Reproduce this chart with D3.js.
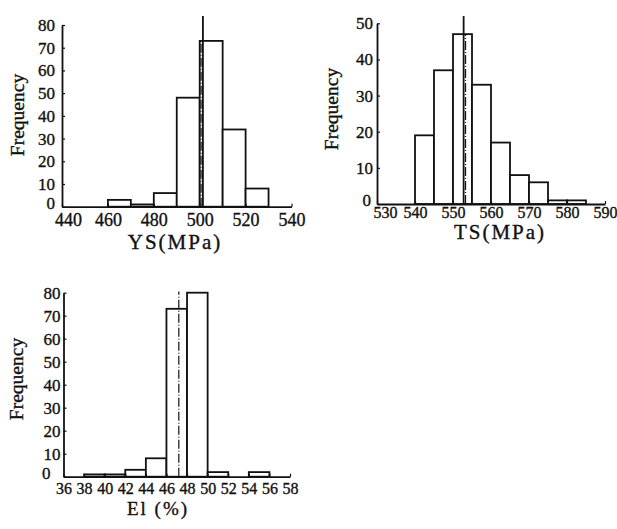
<!DOCTYPE html>
<html>
<head>
<meta charset="utf-8">
<script src="https://cdn.jsdelivr.net/npm/d3@7"></script>
<style>
  body { margin: 0; background: #fff; }
  text { font-family: 'Liberation Serif', 'DejaVu Serif', serif; fill: #111; stroke: #111; stroke-width: 0.35px; }
</style>
</head>
<body>
<script>
// YS histogram (bin width 10 MPa)
const ysBins = [440, 450, 460, 470, 480, 490, 500, 510, 520, 530]
const ysCounts = [0, 0, 3, 1, 6, 48, 73, 34, 8, 0]
const ysXTicks = [440, 460, 480, 500, 520, 540]
const ysYTicks = [0, 10, 20, 30, 40, 50, 60, 70, 80]

// TS histogram (bin width 5 MPa)
const tsBins = [530, 535, 540, 545, 550, 555, 560, 565, 570, 575, 580, 585]
const tsCounts = [0, 0, 19, 37, 47, 33, 17, 8, 6, 1, 1, 0]
const tsXTicks = [530, 540, 550, 560, 570, 580, 590]
const tsYTicks = [0, 10, 20, 30, 40, 50]

// El histogram (bin width 2 %)
const elBins = [36, 38, 40, 42, 44, 46, 48, 50, 52, 54, 56]
const elCounts = [0, 1, 1, 3, 8, 73, 80, 2, 0, 2, 0]
const elXTicks = [36, 38, 40, 42, 44, 46, 48, 50, 52, 54, 56, 58]
const elYTicks = [0, 10, 20, 30, 40, 50, 60, 70, 80]

// mean lines: [solid value, dash-dot value, top frequency]
const ysMean = [501.4, 500.6, 84]
const tsMean = [552.8, 553.3, 52]
const elMean = [null, 47.2, 80.5]

const svg = d3.select('body').append('svg').attr('width', 617).attr('height', 529)

function drawHist(cfg) {
  const x = d3.scaleLinear().domain(cfg.xDomain).range(cfg.xRange)
  const y = d3.scaleLinear().domain(cfg.yDomain).range(cfg.yRange)
  const g = svg.append('g')
  const binW = cfg.binW

  g.selectAll('rect')
    .data(cfg.bins.map((b, i) => ({ b: b, c: cfg.counts[i] })).filter(d => d.c > 0))
    .enter().append('rect')
      .attr('x', d => x(d.b))
      .attr('y', d => y(d.c))
      .attr('width', d => x(d.b + binW) - x(d.b))
      .attr('height', d => y(0) - y(d.c))
      .attr('fill', 'white')
      .attr('stroke', '#111')
      .attr('stroke-width', 1.8)

  const mean = cfg.mean
  if (mean[0] !== null) {
    g.append('line')
      .attr('x1', x(mean[0])).attr('x2', x(mean[0]))
      .attr('y1', y(0)).attr('y2', y(mean[2]))
      .attr('stroke', '#111').attr('stroke-width', 1.8)
  }
  // dash-dot line: inside the bar it falls in, or up to the top value
  const binIdx = cfg.bins.findIndex(b => mean[1] >= b && mean[1] < b + binW)
  g.append('line')
    .attr('x1', x(mean[1])).attr('x2', x(mean[1]))
    .attr('y1', y(0)).attr('y2', y(mean[0] === null ? mean[2] : cfg.counts[binIdx]))
    .attr('stroke', '#111').attr('stroke-width', 1.2)
    .attr('stroke-dasharray', '9,2,1,2')

  const xAxis = d3.axisBottom(x).tickValues(cfg.xTicks).tickSizeInner(-3).tickSizeOuter(0).tickPadding(cfg.xPad)
  const yAxis = d3.axisLeft(y).tickValues(cfg.yTicks).tickSizeInner(-3).tickSizeOuter(0).tickPadding(cfg.yPad)

  const gx = g.append('g').attr('transform', `translate(0,${y(0)})`).call(xAxis)
  const gy = g.append('g').attr('transform', `translate(${x(cfg.xDomain[0])},0)`).call(yAxis)
  ;[gx, gy].forEach(a => {
    a.select('.domain').attr('stroke', '#111').attr('stroke-width', 1.8)
    a.selectAll('.tick line').attr('stroke', '#111').attr('stroke-width', 1.2)
    a.selectAll('text').attr('font-family', null).style('fill', '#111')
  })
  gx.selectAll('text').attr('font-size', cfg.xFont)
  // corner labels kept apart, as in the print
  gx.select('.tick text').attr('dx', cfg.firstDx)
  gy.selectAll('text').attr('font-size', 17)
  gy.select('.tick text').attr('dx', cfg.zeroDx).attr('dy', '0.1em')

  g.append('text')
    .attr('transform', `translate(${cfg.yTitle[0]},${cfg.yTitle[1]}) rotate(-90)`)
    .attr('text-anchor', 'middle')
    .attr('font-size', 19.5)
    .text('Frequency')

  g.append('text')
    .attr('x', cfg.xTitle[0]).attr('y', cfg.xTitle[1])
    .attr('text-anchor', 'middle')
    .attr('font-size', cfg.titleFont)
    .attr('letter-spacing', 2)
    .text(cfg.title)
}

drawHist({
  bins: ysBins, counts: ysCounts, binW: 10, mean: ysMean,
  xDomain: [440, 540], xRange: [62, 291.5], yDomain: [0, 80], yRange: [206.7, 25],
  xTicks: ysXTicks, yTicks: ysYTicks, xPad: 7, yPad: 7, xFont: 18, firstDx: 6, zeroDx: 0,
  yTitle: [24, 115], xTitle: [175, 249], title: 'YS(MPa)', titleFont: 21
})

drawHist({
  bins: tsBins, counts: tsCounts, binW: 5, mean: tsMean,
  xDomain: [530, 590], xRange: [377, 605], yDomain: [0, 50], yRange: [204, 23.3],
  xTicks: tsXTicks, yTicks: tsYTicks, xPad: 3, yPad: 4, xFont: 16, firstDx: 8, zeroDx: -2,
  yTitle: [338, 109], xTitle: [500, 239], title: 'TS(MPa)', titleFont: 21
})

drawHist({
  bins: elBins, counts: elCounts, binW: 2, mean: elMean,
  xDomain: [36, 58], xRange: [63.5, 290], yDomain: [0, 80], yRange: [476.7, 292.7],
  xTicks: elXTicks, yTicks: elYTicks, xPad: 6, yPad: 3, xFont: 16, firstDx: 0, zeroDx: -10,
  yTitle: [23, 379], xTitle: [158, 515], title: 'El (%)', titleFont: 19
})
</script>
</body>
</html>
